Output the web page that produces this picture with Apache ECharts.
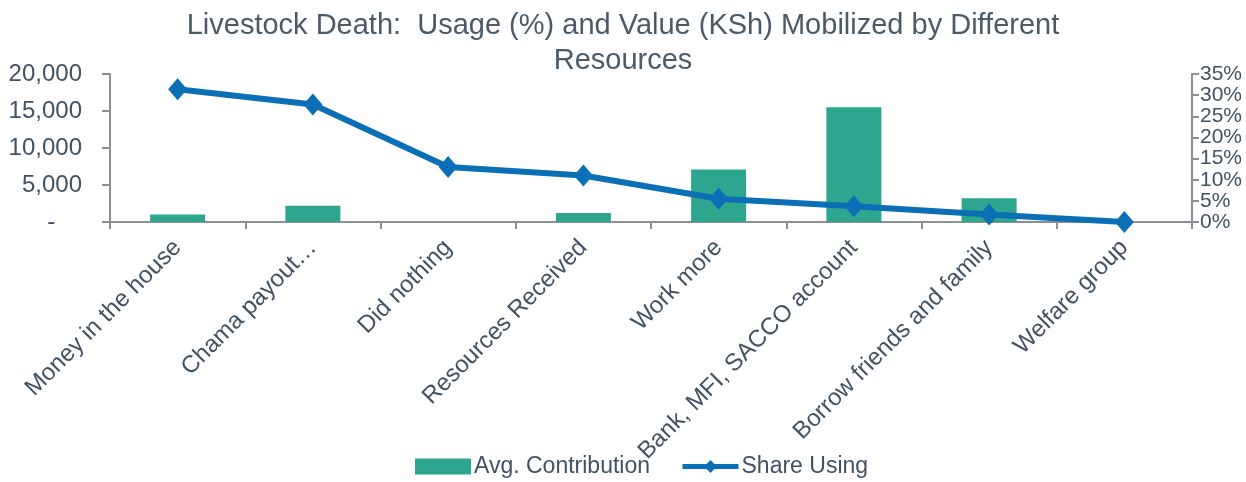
<!DOCTYPE html>
<html>
<head>
<meta charset="utf-8">
<script src="https://cdn.jsdelivr.net/npm/echarts@6/dist/echarts.min.js"></script>
<style>
  html, body { margin: 0; padding: 0; background: #fff; }
  #main { width: 1246px; height: 482px; }
</style>
</head>
<body>
<div id="main"></div>
<script>
// data
var categories = ['Money in the house', 'Chama payout…', 'Did nothing', 'Resources Received',
  'Work more', 'Bank, MFI, SACCO account', 'Borrow friends and family', 'Welfare group'];
var avgContribution = [1000, 2200, 0, 1200, 7100, 15500, 3200, 0];
var shareUsing = [31.4, 27.8, 13.0, 11.0, 5.5, 3.7, 1.8, 0];

var textColor = '#425263';
var axisColor = '#8c9096';
var font = 'Liberation Sans';

var chart = echarts.init(document.getElementById('main'));

var option = {
  animation: false,
  color: ['#2ea68f', '#0b6fb5'],
  title: {
    text: 'Livestock Death:  Usage (%) and Value (KSh) Mobilized by Different\nResources',
    left: 'center',
    top: 3,
    textStyle: {
      fontFamily: font,
      fontSize: 29,
      fontWeight: 'normal',
      color: '#4c5a68',
      lineHeight: 35
    }
  },
  legend: {
    data: [
      { name: 'Avg. Contribution', icon: 'rect' },
      { name: 'Share Using', lineStyle: { width: 5 } }
    ],
    left: 410,
    top: 450,
    itemWidth: 56,
    itemHeight: 16,
    itemGap: 30,
    textStyle: { fontFamily: font, fontSize: 23, color: textColor, padding: [0, 0, 0, -2] }
  },
  grid: {
    left: 110,
    right: 54,
    top: 74,
    bottom: 260
  },
  xAxis: {
    type: 'category',
    data: categories,
    boundaryGap: true,
    axisLine: { lineStyle: { color: axisColor, width: 2 } },
    axisTick: { show: true, alignWithLabel: false, length: 7, lineStyle: { color: axisColor, width: 2 } },
    axisLabel: {
      interval: 0,
      rotate: 45,
      margin: 22,
      fontFamily: font,
      fontSize: 24,
      color: textColor
    }
  },
  yAxis: [
    {
      type: 'value',
      min: 0,
      max: 20000,
      interval: 5000,
      splitLine: { show: false },
      axisLine: { show: true, lineStyle: { color: axisColor, width: 2 } },
      axisTick: { show: true, length: 8, lineStyle: { color: axisColor, width: 2 } },
      axisLabel: {
        margin: 28,
        fontFamily: font,
        fontSize: 24,
        color: textColor,
        formatter: function (v) {
          return v === 0 ? '-    ' : v.toLocaleString('en-US');
        }
      }
    },
    {
      type: 'value',
      min: 0,
      max: 35,
      interval: 5,
      position: 'right',
      splitLine: { show: false },
      axisLine: { show: true, lineStyle: { color: axisColor, width: 2 } },
      axisTick: { show: true, length: 7, lineStyle: { color: axisColor, width: 2 } },
      axisLabel: {
        margin: 8,
        fontFamily: font,
        fontSize: 21,
        lineHeight: 16,
        color: textColor,
        showMinLabel: true,
        showMaxLabel: true,
        formatter: '{value}%'
      }
    }
  ],
  series: [
    {
      name: 'Avg. Contribution',
      type: 'bar',
      yAxisIndex: 0,
      barWidth: 55,
      data: avgContribution
    },
    {
      name: 'Share Using',
      type: 'line',
      yAxisIndex: 1,
      symbol: 'diamond',
      symbolSize: [19, 22],
      lineStyle: { width: 6 },
      data: shareUsing
    }
  ]
};

chart.setOption(option);
</script>
</body>
</html>
